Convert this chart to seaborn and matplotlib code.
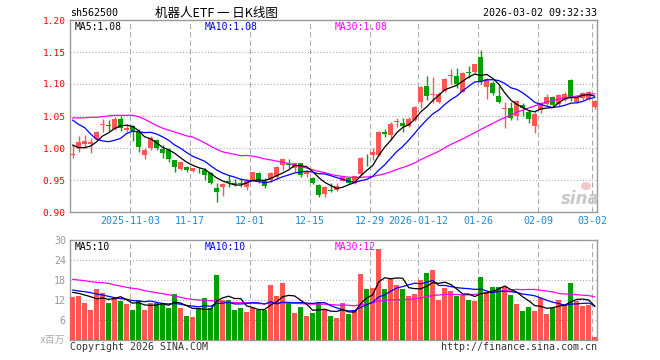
import numpy as np
import pandas as pd
import matplotlib
matplotlib.use("Agg")
import matplotlib.pyplot as plt
from matplotlib.patches import Ellipse
import seaborn as sns

# ---------------- data ----------------
open_ = [0.989, 0.9995, 1.0067, 1.007, 1.014, 1.036, 1.0355, 1.030, 1.046, 1.028,
         1.034, 1.0255, 0.989, 0.9995, 1.0125, 0.998, 0.997, 0.981, 0.967, 0.971,
         0.964, 0.9645, 0.9656, 0.9614, 0.937, 0.939, 0.9478, 0.9453, 0.9453, 0.9395,
         0.950, 0.9604, 0.949, 0.950, 0.9552, 0.9734, 0.975, 0.968, 0.976, 0.9594,
         0.9536, 0.942, 0.928, 0.9335, 0.934, 0.949, 0.9526, 0.9458, 0.9594, 0.9833,
         0.989, 0.989, 1.0255, 1.0203, 1.041, 1.039, 1.0349, 1.0437, 1.0714, 1.0964,
         1.0835, 1.0714, 1.089, 1.1125, 1.113, 1.088, 1.1185, 1.1183, 1.1427, 1.0958,
         1.102, 1.0815, 1.0615, 1.062, 1.050, 1.067, 1.0567, 1.035, 1.059, 1.068,
         1.080, 1.069, 1.075, 1.106, 1.072, 1.078, 1.077, 1.0645]
high = [1.005, 1.019, 1.021, 1.015, 1.027, 1.045, 1.044, 1.048, 1.0505, 1.038,
        1.036, 1.029, 0.9995, 1.019, 1.014, 1.005, 0.9995, 0.982, 0.980, 0.972,
        0.969, 0.968, 0.968, 0.963, 0.9448, 0.9448, 0.958, 0.952, 0.9536, 0.952,
        0.963, 0.962, 0.953, 0.963, 0.972, 0.983, 0.983, 0.977, 0.977, 0.966,
        0.955, 0.944, 0.941, 0.9448, 0.946, 0.957, 0.955, 0.957, 0.9865, 0.9906,
        0.9995, 1.0266, 1.0297, 1.040, 1.0464, 1.0464, 1.049, 1.066, 1.0973, 1.112,
        1.1114, 1.088, 1.109, 1.1234, 1.1255, 1.119, 1.1289, 1.132, 1.153, 1.110,
        1.1047, 1.097, 1.072, 1.0714, 1.075, 1.070, 1.0594, 1.0567, 1.072, 1.084,
        1.081, 1.085, 1.087, 1.108, 1.082, 1.088, 1.089, 1.0745]
low = [0.984, 0.994, 1.000, 0.992, 1.012, 1.025, 1.027, 1.028, 1.027, 1.025,
       1.011, 0.994, 0.983, 0.997, 0.997, 0.984, 0.9786, 0.963, 0.9655, 0.963,
       0.962, 0.9605, 0.950, 0.944, 0.916, 0.925, 0.9395, 0.940, 0.9395, 0.934,
       0.9485, 0.946, 0.937, 0.947, 0.951, 0.966, 0.969, 0.962, 0.9546, 0.9546,
       0.9442, 0.924, 0.9235, 0.931, 0.933, 0.948, 0.944, 0.944, 0.958, 0.972,
       0.981, 0.988, 1.0177, 1.0125, 1.0333, 1.0245, 1.0333, 1.042, 1.063, 1.075,
       1.070, 1.0703, 1.088, 1.0995, 1.0942, 1.087, 1.109, 1.1167, 1.0995, 1.0766,
       1.083, 1.0698, 1.032, 1.0437, 1.0437, 1.0505, 1.0386, 1.024, 1.054, 1.067,
       1.066, 1.066, 1.073, 1.074, 1.070, 1.075, 1.075, 1.061]
close = [0.991, 1.010, 1.011, 1.010, 1.0255, 1.037, 1.0345, 1.045, 1.031, 1.031,
         1.027, 1.002, 0.997, 1.015, 0.9995, 0.992, 0.9823, 0.971, 0.9786, 0.9656,
         0.968, 0.9635, 0.958, 0.9458, 0.9317, 0.9433, 0.9468, 0.9443, 0.9443, 0.949,
         0.962, 0.950, 0.9406, 0.9604, 0.9708, 0.9828, 0.974, 0.976, 0.958, 0.963,
         0.9458, 0.9266, 0.9386, 0.9325, 0.9406, 0.9552, 0.9458, 0.9562, 0.985, 0.9823,
         0.9933, 1.0245, 1.0214, 1.038, 1.042, 1.0349, 1.0453, 1.064, 1.0958, 1.0817,
         1.0845, 1.085, 1.1078, 1.1135, 1.0995, 1.117, 1.1165, 1.1312, 1.1026, 1.1074,
         1.0867, 1.0714, 1.0625, 1.0469, 1.0734, 1.063, 1.0458, 1.0537, 1.070, 1.0795,
         1.067, 1.083, 1.085, 1.080, 1.079, 1.0855, 1.087, 1.0734]
volume = [13.0, 13.3, 11.2, 9.0, 15.3, 14.2, 11.2, 12.5, 11.8, 10.8,
          9.0, 12.0, 9.0, 11.2, 11.2, 11.0, 9.7, 13.8, 9.7, 7.2,
          7.0, 9.5, 12.5, 9.7, 19.5, 12.0, 12.0, 9.0, 9.7, 8.5,
          9.5, 9.0, 9.0, 16.5, 13.2, 17.2, 11.0, 8.2, 10.0, 7.2,
          8.2, 11.5, 9.2, 7.2, 6.7, 11.2, 7.8, 9.0, 19.8, 15.3,
          15.7, 27.3, 15.3, 18.2, 16.5, 15.3, 13.2, 13.8, 18.0, 20.2,
          21.0, 12.0, 15.5, 14.7, 13.3, 13.5, 12.0, 11.7, 18.9, 14.5,
          15.8, 15.8, 16.0, 13.5, 10.8, 8.7, 9.8, 8.7, 12.5, 7.8,
          9.7, 12.0, 10.5, 17.0, 11.7, 10.2, 10.5, 0.9]

# moving-average values at the start of the window (read from the picture,
# their windows reach back before the first visible day)
ma5_head = [1.0047, 1.0005, 1.0005, 1.003]
ma10_head = [1.0437, 1.037, 1.032, 1.022, 1.0136, 1.011, 1.0099, 1.012, 1.015]
ma30_head = [1.047, 1.047, 1.047, 1.048, 1.048, 1.049, 1.050, 1.051, 1.051, 1.051,
             1.051, 1.049, 1.045, 1.040, 1.035, 1.031, 1.028, 1.025, 1.022, 1.019,
             1.017, 1.013, 1.008, 1.003, 0.998, 0.994, 0.992, 0.990, 0.988]
vma5_head = [14.3, 14.0, 13.5, 13.0]
vma10_head = [15.0, 14.7, 14.5, 14.2, 13.8, 13.5, 13.1, 12.7, 12.4]
vma30_head = [18.2, 18.0, 17.8, 17.5, 17.3, 17.2, 17.0, 16.5, 16.2, 15.8,
              15.5, 15.3, 14.8, 14.5, 14.2, 13.9, 13.6, 13.2, 12.8, 12.4,
              12.2, 12.0, 11.9, 11.8, 11.7, 11.5, 11.4, 11.2, 11.2]

tick_labels = ["2025-11-03", "11-17", "12-01", "12-15", "12-29",
               "2026-01-12", "01-26", "02-09", "03-02"]
tick_index = [10, 20, 30, 40, 50, 58, 68, 78, 87]
price_ticks = [0.90, 0.95, 1.00, 1.05, 1.10, 1.15, 1.20]
vol_ticks = [0, 6, 12, 18, 24, 30]

# ---------------- style ----------------
sns.set_theme(style="white")
MONO = ['DejaVu Sans Mono', 'Noto Sans CJK SC']
plt.rcParams['font.family'] = MONO
RED = '#ff5555'
GREEN = '#00a000'
BLUE = '#0000ff'
MAG = '#ff00ff'
GRID = '#aaaaaa'
FRAME = '#999999'
XCOL = '#1e88d8'

W, H = 660, 360


def fx(px):
    return px / W


def fy(py):
    return 1 - py / H


def moving(values, window, head):
    s = pd.Series(values, dtype=float).rolling(window).mean().to_numpy()
    s[:len(head)] = head
    return s


n = len(close)
idx = np.arange(n)
o = np.array(open_)
c = np.array(close)
hi = np.array(high)
lo = np.array(low)
up = c >= o
colors = np.where(up, RED, GREEN)

ma5 = moving(close, 5, ma5_head)
ma10 = moving(close, 10, ma10_head)
ma30 = moving(close, 30, ma30_head)
vma5 = moving(volume, 5, vma5_head)
vma10 = moving(volume, 10, vma10_head)
vma30 = moving(volume, 30, vma30_head)

fig = plt.figure(figsize=(6.6, 3.6), dpi=100)
fig.patch.set_facecolor('white')
L, R = 70, 597
axp = fig.add_axes([fx(L), fy(212), fx(R) - fx(L), fy(20) - fy(212)])
axv = fig.add_axes([fx(L), fy(340), fx(R) - fx(L), fy(240) - fy(340)])
XLIM = (-0.42, 87.36)
grid_x = np.array(tick_index) - 0.42

# ---------------- price panel ----------------
axp.vlines(idx, lo, hi, colors=colors, lw=1.0, zorder=3)
min_body = 0.0014
body_h = np.maximum(np.abs(c - o), min_body)
body_b = np.minimum(o, c) - (body_h - np.abs(c - o)) / 2
axp.bar(idx, body_h, bottom=body_b, width=0.8, color=colors, lw=0, zorder=4)
for arr, col in [(ma30, MAG), (ma10, BLUE), (ma5, 'black')]:
    sns.lineplot(x=idx, y=arr, color=col, lw=0.9, ax=axp, zorder=5,
                 estimator=None, sort=False)
axp.set_xlim(*XLIM)
axp.set_ylim(0.90, 1.20)
axp.set_yticks(price_ticks)
axp.set_yticklabels([f"{v:.2f}" for v in price_ticks], color='red', fontsize=6.8)
axp.grid(axis='y', ls=(0, (1, 2)), color=GRID, lw=0.75)
for gx in grid_x:
    axp.axvline(gx, color=GRID, lw=0.75, ls=(0, (5, 3)), zorder=1)
axp.set_xticks(grid_x)
axp.set_xticklabels(tick_labels, color=XCOL, fontsize=7.2)
axp.tick_params(axis='both', length=0, pad=3)
axp.set_xlabel('')
axp.set_ylabel('')

# ---------------- volume panel ----------------
vdf = pd.DataFrame({"i": idx, "vol": volume, "dir": np.where(up, "up", "down")})
sns.barplot(data=vdf, x="i", y="vol", hue="dir", palette={"up": RED, "down": GREEN},
            native_scale=True, dodge=False, width=0.84, saturation=1,
            errorbar=None, legend=False, ax=axv, zorder=3, linewidth=0)
for arr, col in [(vma30, MAG), (vma10, BLUE), (vma5, 'black')]:
    sns.lineplot(x=idx, y=arr, color=col, lw=0.9, ax=axv, zorder=5,
                 estimator=None, sort=False)
axv.set_xlim(*XLIM)
axv.set_ylim(0, 30)
axv.set_yticks(vol_ticks)
axv.set_yticklabels([''] + [str(v) for v in vol_ticks[1:]], color='#999999', fontsize=7.2)
axv.grid(axis='y', ls=(0, (1, 2)), color=GRID, lw=0.75)
for gx in grid_x:
    axv.axvline(gx, color=GRID, lw=0.75, ls=(0, (5, 3)), zorder=1)
axv.set_xticks([])
axv.tick_params(axis='both', length=0, pad=3)
axv.set_xlabel('')
axv.set_ylabel('')

for ax in (axp, axv):
    ax.set_facecolor('white')
    for sp in ax.spines.values():
        sp.set_visible(True)
        sp.set_color(FRAME)
        sp.set_linewidth(1.0)

# ---------------- texts ----------------
fig.text(fx(70), fy(13), "sh562500", fontsize=7.2, color='black', va='center', ha='left')
fig.text(fx(216), fy(13), "机器人ETF 一 日K线图", fontsize=9, color='black',
         va='center', ha='center', family=['Noto Sans CJK SC', 'DejaVu Sans'])
fig.text(fx(597), fy(13), "2026-03-02 09:32:33", fontsize=7.2, color='black',
         va='center', ha='right')

fig.text(fx(75), fy(26.5), "MA5:1.08", fontsize=7.0, color='black', va='center')
fig.text(fx(205), fy(26.5), "MA10:1.08", fontsize=7.0, color=BLUE, va='center')
fig.text(fx(335), fy(26.5), "MA30:1.08", fontsize=7.0, color=MAG, va='center')

fig.text(fx(75), fy(246.5), "MA5:10", fontsize=7.0, color='black', va='center')
fig.text(fx(205), fy(246.5), "MA10:10", fontsize=7.0, color=BLUE, va='center')
fig.text(fx(335), fy(246.5), "MA30:12", fontsize=7.0, color=MAG, va='center')

fig.text(fx(65), fy(340), "x百万", fontsize=7.0, color='#aaaaaa', va='center',
         ha='right', family=MONO)
fig.text(fx(70), fy(347), "Copyright 2026 SINA.COM", fontsize=7.2, color='#333333',
         va='center', ha='left')
fig.text(fx(597), fy(347), "http://finance.sina.com.cn", fontsize=7.2, color='#333333',
         va='center', ha='right')

# sina watermark: pale eye-shaped logo plus the word
fig.patches.append(Ellipse((fx(586), fy(186)), 10 / W, 8 / H, transform=fig.transFigure,
                           facecolor='#f5c8c8', edgecolor='none', zorder=6))
fig.text(fx(580), fy(199), "sina", fontsize=12, color='#c8c8c8', va='center',
         ha='center', style='italic', weight='bold', family='DejaVu Sans')

fig.savefig("out.png", dpi=100, facecolor='white')
